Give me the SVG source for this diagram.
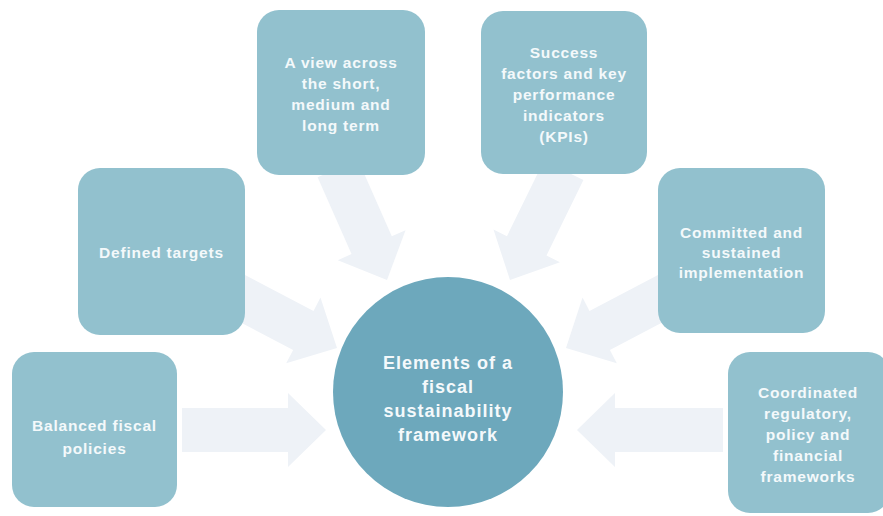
<svg xmlns="http://www.w3.org/2000/svg" width="883" height="516" viewBox="0 0 883 516">
<defs>
<style>
.box{fill:#92c1ce;}
.hub{fill:#6da8bc;}
.arr{fill:#eef2f7;}
.t{font-family:"Liberation Sans",Arial,sans-serif;font-size:15.5px;font-weight:bold;fill:#f4f9fb;text-anchor:middle;letter-spacing:0.8px;}
.th{font-family:"Liberation Sans",Arial,sans-serif;font-size:18px;font-weight:bold;fill:#f4f9fb;text-anchor:middle;letter-spacing:1px;}
</style>
</defs>
<rect width="883" height="516" fill="#ffffff"/>
<g id="connectors">
<path class="arr" transform="translate(326,430)" d="M-144,-22 L-38,-22 L-38,-37 L0,0 L-38,37 L-38,22 L-144,22 Z"/>
<path class="arr" transform="translate(577,430) rotate(180)" d="M-146,-22 L-38,-22 L-38,-37 L0,0 L-38,37 L-38,22 L-146,22 Z"/>
<path class="arr" transform="translate(337,348) rotate(27.6)" d="M-118,-22 L-38,-22 L-38,-37 L0,0 L-38,37 L-38,22 L-118,22 Z"/>
<path class="arr" transform="translate(566,348) rotate(152.4)" d="M-118,-22 L-38,-22 L-38,-37 L0,0 L-38,37 L-38,22 L-118,22 Z"/>
<path class="arr" transform="translate(387,280) rotate(66.2)" d="M-122,-22 L-38,-22 L-38,-37 L0,0 L-38,37 L-38,22 L-122,22 Z"/>
<path class="arr" transform="translate(510,280) rotate(116.1)" d="M-122,-22 L-38,-22 L-38,-37 L0,0 L-38,37 L-38,22 L-122,22 Z"/>
</g>
<g id="node-balanced">
<rect class="box" x="12" y="352" width="165" height="155" rx="22"/>
<text class="t" x="94.5" y="431">Balanced fiscal</text>
<text class="t" x="94.5" y="454">policies</text>
</g>
<g id="node-defined">
<rect class="box" x="78" y="168" width="167" height="167" rx="22"/>
<text class="t" x="161.5" y="258">Defined targets</text>
</g>
<g id="node-view">
<rect class="box" x="257" y="10" width="168" height="165" rx="22"/>
<text class="t" x="341" y="68">A view across</text>
<text class="t" x="341" y="89">the short,</text>
<text class="t" x="341" y="110">medium and</text>
<text class="t" x="341" y="131">long term</text>
</g>
<g id="node-success">
<rect class="box" x="481" y="11" width="166" height="163" rx="22"/>
<text class="t" x="564" y="58">Success</text>
<text class="t" x="564" y="79">factors and key</text>
<text class="t" x="564" y="100">performance</text>
<text class="t" x="564" y="121">indicators</text>
<text class="t" x="564" y="142">(KPIs)</text>
</g>
<g id="node-committed">
<rect class="box" x="658" y="168" width="167" height="165" rx="22"/>
<text class="t" x="741.5" y="238">Committed and</text>
<text class="t" x="741.5" y="258">sustained</text>
<text class="t" x="741.5" y="278">implementation</text>
</g>
<g id="node-coordinated">
<rect class="box" x="728" y="352" width="162" height="161" rx="22"/>
<text class="t" x="808" y="398">Coordinated</text>
<text class="t" x="808" y="419">regulatory,</text>
<text class="t" x="808" y="440">policy and</text>
<text class="t" x="808" y="461">financial</text>
<text class="t" x="808" y="482">frameworks</text>
</g>
<g id="node-hub">
<circle class="hub" cx="448" cy="392" r="115"/>
<text class="th" x="448" y="369">Elements of a</text>
<text class="th" x="448" y="393">fiscal</text>
<text class="th" x="448" y="417">sustainability</text>
<text class="th" x="448" y="441">framework</text>
</g>
</svg>
